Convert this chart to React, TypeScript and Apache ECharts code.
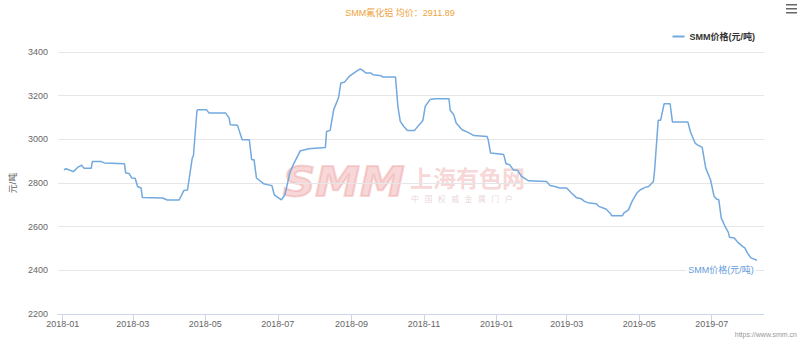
import React, { useEffect, useRef } from "react";
import * as echarts from "echarts";

const titleText = "SMM氟化铝 均价：2911.89";
const seriesName = "SMM价格(元/吨)";
const yAxisName = "元/吨";
const axisStart = "2017-12-28";
const axisEnd = "2019-08-14";
const yMin = 2200;
const yMax = 3400;
const yStep = 200;

const dates = [
  "2018-01-02","2018-01-04","2018-01-10","2018-01-14","2018-01-17","2018-01-19","2018-01-25","2018-01-26",
  "2018-02-02","2018-02-05","2018-02-22","2018-02-23","2018-02-26","2018-02-28","2018-03-03","2018-03-05",
  "2018-03-08","2018-03-09","2018-03-26","2018-03-30","2018-04-09","2018-04-13","2018-04-16","2018-04-20",
  "2018-04-21","2018-04-24","2018-04-25","2018-05-02","2018-05-04","2018-05-18","2018-05-21","2018-05-22",
  "2018-05-28","2018-06-01","2018-06-07","2018-06-09","2018-06-11","2018-06-13","2018-06-19","2018-06-26",
  "2018-06-28","2018-07-04","2018-07-07","2018-07-11","2018-07-14","2018-07-20","2018-07-22","2018-07-27",
  "2018-08-10","2018-08-11","2018-08-14","2018-08-17","2018-08-21","2018-08-23","2018-08-26","2018-08-30",
  "2018-09-05","2018-09-08","2018-09-10","2018-09-13","2018-09-17","2018-09-19","2018-09-26","2018-09-27",
  "2018-10-08","2018-10-10","2018-10-12","2018-10-15","2018-10-18","2018-10-24","2018-10-31","2018-11-02",
  "2018-11-06","2018-11-10","2018-11-22","2018-11-23","2018-11-26","2018-11-28","2018-12-03","2018-12-08",
  "2018-12-13","2018-12-24","2018-12-25","2018-12-27","2019-01-07","2019-01-09","2019-01-12","2019-01-15",
  "2019-01-19","2019-01-22","2019-01-28","2019-02-12","2019-02-15","2019-02-19","2019-02-23","2019-03-01",
  "2019-03-05","2019-03-09","2019-03-13","2019-03-16","2019-03-20","2019-03-26","2019-03-28","2019-04-03",
  "2019-04-07","2019-04-08","2019-04-17","2019-04-18","2019-04-22","2019-04-25","2019-04-29","2019-05-02",
  "2019-05-06","2019-05-09","2019-05-13","2019-05-14","2019-05-17","2019-05-19","2019-05-22","2019-05-27",
  "2019-05-29","2019-06-11","2019-06-13","2019-06-17","2019-06-19","2019-06-23","2019-06-26","2019-06-30",
  "2019-07-03","2019-07-05","2019-07-07","2019-07-09","2019-07-12","2019-07-15","2019-07-16","2019-07-20",
  "2019-07-23","2019-07-27","2019-07-29","2019-07-31","2019-08-03","2019-08-08"
];

const prices = [
  2861,2865,2852,2873,2882,2867,2867,2899,
  2899,2892,2888,2846,2843,2823,2822,2784,
  2777,2734,2731,2722,2722,2766,2768,2914,
  2925,3133,3136,3136,3121,3121,3098,3067,
  3065,2998,2998,2907,2907,2823,2797,2788,
  2746,2723,2746,2845,2884,2948,2950,2957,
  2963,3036,3041,3136,3189,3258,3261,3288,
  3311,3322,3318,3304,3304,3296,3291,3285,
  3285,3151,3082,3059,3041,3041,3086,3151,
  3182,3186,3186,3133,3113,3075,3044,3032,
  3017,3013,2998,2937,2930,2888,2884,2861,
  2857,2830,2810,2807,2789,2784,2777,2777,
  2754,2734,2728,2716,2708,2705,2693,2681,
  2659,2650,2650,2662,2677,2716,2754,2769,
  2780,2784,2807,2861,3087,3087,3163,3163,
  3079,3079,3036,2983,2975,2963,2868,2815,
  2739,2727,2723,2640,2604,2574,2551,2548,
  2528,2510,2502,2480,2457,2446
];

const watermarkSub = "中   国   权   威   金   属   门   户";

function buildDays(start: string, end: string): string[] {
  const out: string[] = [];
  const d = new Date(start + "T00:00:00Z");
  const e = new Date(end + "T00:00:00Z");
  while (d.getTime() <= e.getTime()) {
    out.push(d.toISOString().slice(0, 10));
    d.setUTCDate(d.getUTCDate() + 1);
  }
  return out;
}

const FONT = '"Liberation Sans", "Noto Sans CJK SC", sans-serif';

export default function App() {
  const ref = useRef<HTMLDivElement>(null);
  useEffect(() => {
    if (!ref.current) return;
    const chart = echarts.init(ref.current, undefined, { renderer: "svg" });
    const days = buildDays(axisStart, axisEnd);
    const isLabelDay = (_i: number, v: string) =>
      v.slice(8) === "01" && (+v.slice(5, 7)) % 2 === 1;

    const option: any = {
      animation: false,
      backgroundColor: "#fff",
      textStyle: { fontFamily: FONT },
      title: {
        text: titleText,
        left: "center",
        top: 3,
        textStyle: { color: "#eea33a", fontSize: 9, fontWeight: "normal", fontFamily: FONT },
      },
      legend: {
        right: 40,
        top: 27,
        icon: "rect",
        itemWidth: 12,
        itemHeight: 2,
        itemGap: 4,
        textStyle: { color: "#333", fontSize: 9, fontWeight: "bold", fontFamily: FONT },
        data: [seriesName],
      },
      grid: { left: 52, right: 36, top: 52, bottom: 29 },
      xAxis: {
        type: "category",
        data: days,
        boundaryGap: false,
        axisLine: { lineStyle: { color: "#ccd6eb" } },
        axisTick: { interval: isLabelDay, length: 8, lineStyle: { color: "#ccd6eb" } },
        axisLabel: {
          interval: isLabelDay,
          formatter: (v: string) => v.slice(0, 7),
          color: "#666",
          fontSize: 9,
          margin: 5,
          fontFamily: FONT,
        },
        splitLine: { show: false },
      },
      yAxis: {
        type: "value",
        min: yMin,
        max: yMax,
        interval: yStep,
        name: yAxisName,
        nameLocation: "middle",
        nameRotate: 90,
        nameGap: 36,
        nameTextStyle: { color: "#666", fontSize: 9, fontFamily: FONT },
        axisLine: { show: false },
        axisTick: { show: false },
        axisLabel: {
          color: "#666",
          fontSize: 9,
          margin: 10,
          fontFamily: FONT,
          formatter: (v: number) => String(v),
        },
        splitLine: { lineStyle: { color: "#e6e6e6", width: 1 } },
      },
      series: [
        {
          name: seriesName,
          type: "line",
          data: dates.map((d, i) => [d, prices[i]]),
          showSymbol: false,
          symbol: "none",
          color: "#72a9de",
          lineStyle: { color: "#72a9de", width: 1.5 },
          endLabel: {
            show: true,
            formatter: "{a}",
            align: "right",
            verticalAlign: "top",
            distance: 0,
            offset: [-1, 4],
            padding: [1, 2],
            backgroundColor: "#fff",
            color: "#5f9bd8",
            fontSize: 9,
            fontFamily: FONT,
          },
        },
      ],
      graphic: [
        {
          type: "text",
          left: 282,
          top: 161,
          z: -1,
          silent: true,
          scaleX: 1.12,
          style: {
            text: "SMM",
            fontSize: 40,
            fontWeight: 900,
            fontStyle: "italic",
            fontFamily: '"DejaVu Sans", sans-serif',
            fill: "rgba(236,150,150,0.4)",
            stroke: "rgba(236,150,150,0.4)",
            lineWidth: 2,
          },
        },
        {
          type: "text",
          left: 410,
          top: 165,
          z: -1,
          silent: true,
          style: {
            text: "上海有色网",
            fontSize: 23,
            lineHeight: 23,
            fontWeight: "bold",
            fontFamily: '"Noto Sans CJK SC", sans-serif',
            fill: "rgba(236,150,150,0.4)",
          },
        },
        {
          type: "text",
          left: 411,
          top: 194,
          z: -1,
          silent: true,
          style: {
            text: watermarkSub,
            fontSize: 8,
            lineHeight: 9,
            fontFamily: '"Noto Sans CJK SC", sans-serif',
            fill: "rgba(200,160,160,0.45)",
          },
        },
        {
          type: "text",
          right: 3,
          top: 331,
          silent: true,
          style: { text: "https://www.smm.cn", fontSize: 7, fill: "#999", fontFamily: FONT },
        },
        { type: "rect", left: 786, top: 4, shape: { width: 11, height: 1.5 }, style: { fill: "#666" } },
        { type: "rect", left: 786, top: 8, shape: { width: 11, height: 1.5 }, style: { fill: "#666" } },
        { type: "rect", left: 786, top: 12, shape: { width: 11, height: 1.5 }, style: { fill: "#666" } },
      ],
    };
    chart.setOption(option);
    return () => chart.dispose();
  }, []);

  return (
    <div
      ref={ref}
      style={{ position: "fixed", left: 0, top: 0, width: 800, height: 343, background: "#fff" }}
    />
  );
}
